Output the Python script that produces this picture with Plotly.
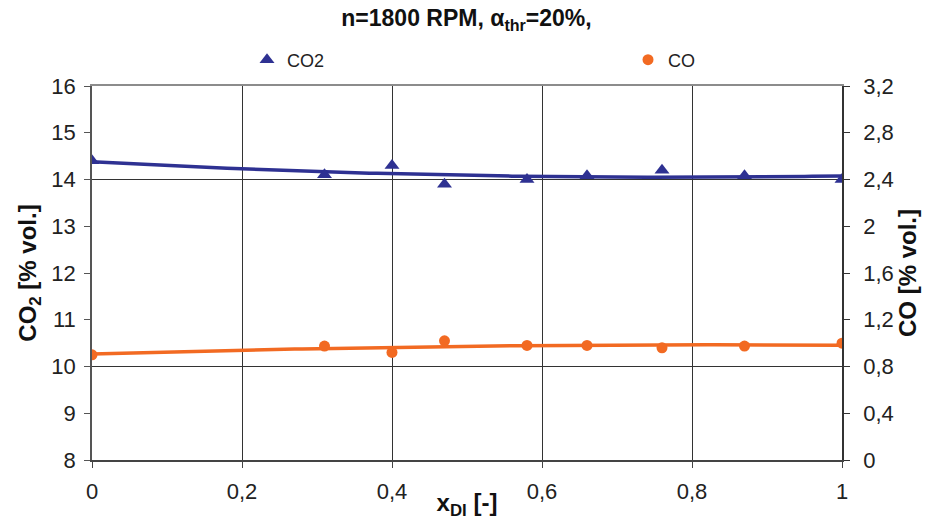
import numpy as np
import plotly.graph_objects as go

x_di = [0, 0.31, 0.40, 0.47, 0.58, 0.66, 0.76, 0.87, 1.0]
co2 = [14.4, 14.1, 14.3, 13.9, 14.0, 14.08, 14.2, 14.08, 14.0]
co = [0.90, 0.975, 0.92, 1.02, 0.98, 0.98, 0.96, 0.975, 1.0]

BLUE = "#2E3192"
ORANGE = "#F26A22"
FONT = "Liberation Sans, Arial, sans-serif"

W, H = 925, 520

xf = np.linspace(0, 1, 101)
co2_fit = np.polyval(np.polyfit(x_di, co2, 2), xf)
co_fit = np.polyval(np.polyfit(x_di, co, 2), xf)

fig = go.Figure()
fig.add_trace(go.Scatter(x=xf, y=co2_fit, mode="lines", line=dict(color=BLUE, width=3.5),
                         showlegend=False, hoverinfo="skip"))
fig.add_trace(go.Scatter(x=x_di, y=co2, mode="markers", name="CO2", legend="legend",
                         marker=dict(symbol="triangle-up", size=13, color=BLUE)))
fig.add_trace(go.Scatter(x=xf, y=co_fit, mode="lines", line=dict(color=ORANGE, width=3.5),
                         showlegend=False, hoverinfo="skip", yaxis="y2"))
fig.add_trace(go.Scatter(x=x_di, y=co, mode="markers", name="CO", yaxis="y2", legend="legend2",
                         marker=dict(symbol="circle", size=11, color=ORANGE)))
# dummy traces to activate helper axes
fig.add_trace(go.Scatter(x=[None], y=[None], yaxis="y3", showlegend=False))
fig.add_trace(go.Scatter(x=[None], y=[None], xaxis="x2", showlegend=False))

tickfont = dict(family=FONT, size=22, color="#222")
titlefont = dict(family=FONT, size=24, color="#111")
legfont = dict(family=FONT, size=18, color="#222")

fig.update_layout(
    width=W, height=H,
    margin=dict(l=92, r=83, t=86, b=60, autoexpand=False),
    paper_bgcolor="white", plot_bgcolor="white",
    separators=", ",
    title=dict(text="<b>n=1800 RPM, α<sub>thr</sub>=20%,</b>", x=0.5 + 4 / W, xanchor="center",
               xref="container", yref="container",
               y=1 - 18 / H, yanchor="middle", font=dict(family=FONT, size=23, color="#111")),
    legend=dict(orientation="h", xref="container", yref="container",
                x=247 / W, xanchor="left", y=1 - 60 / H, yanchor="middle",
                font=legfont, bgcolor="rgba(0,0,0,0)"),
    legend2=dict(orientation="h", xref="container", yref="container",
                 x=628 / W, xanchor="left", y=1 - 60 / H, yanchor="middle",
                 font=legfont, bgcolor="rgba(0,0,0,0)"),
    xaxis=dict(range=[0, 1], dtick=0.2, tick0=0, showgrid=True, gridcolor="#333", gridwidth=1,
               zeroline=False, showline=True, linecolor="#444", linewidth=2, automargin=False,
               ticks="outside", ticklen=6, tickcolor="#444", tickfont=tickfont,
               ticklabelstandoff=5,
               title=dict(text="<b>x<sub>DI</sub> [-]</b>", font=titlefont, standoff=0)),
    xaxis2=dict(range=[0, 1], overlaying="x", side="top", showline=True, linecolor="#8c8c8c",
                linewidth=2, showticklabels=False, ticks="", showgrid=False, zeroline=False,
                automargin=False),
    yaxis=dict(range=[8, 16], dtick=1, tick0=8, showgrid=False, zeroline=False,
               showline=True, linecolor="#555", linewidth=1.5, automargin=False,
               ticks="outside", ticklen=6, tickcolor="#555", tickfont=tickfont,
               ticklabelstandoff=4,
               title=dict(text="<b>CO<sub>2</sub> [% vol.]</b>", font=titlefont, standoff=8)),
    yaxis2=dict(range=[0, 3.2], dtick=0.4, tick0=0, overlaying="y", side="right",
                showgrid=False, zeroline=False, showline=True, linecolor="#333", linewidth=1.5,
                ticks="outside", ticklen=6, tickcolor="#333", tickfont=tickfont, automargin=False,
                ticklabelstandoff=9,
                title=dict(text="<b>CO [% vol.]</b>", font=titlefont, standoff=5)),
    yaxis3=dict(range=[8, 16], tick0=10, dtick=4, overlaying="y", showgrid=True,
                gridcolor="#333", gridwidth=1, showticklabels=False, ticks="", zeroline=False,
                showline=False, automargin=False),
)

fig.write_html("out.html", config={"displayModeBar": False},
               post_script="document.body.style.margin='0';")
